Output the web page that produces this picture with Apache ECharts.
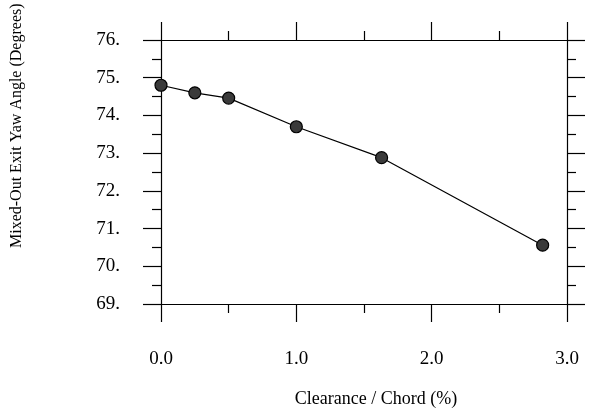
<!DOCTYPE html>
<html>
<head>
<meta charset="utf-8">
<script src="https://cdn.jsdelivr.net/npm/echarts@6/dist/echarts.min.js"></script>
<style>html,body{margin:0;padding:0;background:#fff}#c{width:596px;height:413px}</style>
</head>
<body>
<div id="c"></div>
<script>
var clearance = [0.0, 0.25, 0.5, 1.0, 1.63, 2.82];
var yawAngle = [74.80, 74.60, 74.46, 73.70, 72.88, 70.56];
var xTicks = [0, 1, 2, 3];
var yTicks = [69, 70, 71, 72, 73, 74, 75, 76];
var xTitle = 'Clearance / Chord (%)';
var yTitle = 'Mixed-Out Exit Yaw Angle (Degrees)';

var font = '"Liberation Serif", "Times New Roman", serif';
var chart = echarts.init(document.getElementById('c'));
var lineStyle = {color: '#000', width: 1.2};
function xAxis(pos, showLabel) {
  return {
    type: 'value', position: pos, min: xTicks[0], max: xTicks[xTicks.length - 1], interval: 1,
    axisLine: {show: true, onZero: false, lineStyle: lineStyle},
    axisTick: {show: true, inside: false, length: 18, lineStyle: lineStyle},
    minorTick: {show: true, splitNumber: 2, length: 9, lineStyle: lineStyle},
    splitLine: {show: false}, minorSplitLine: {show: false},
    axisLabel: {show: showLabel, margin: 46, fontFamily: font, fontSize: 19, color: '#000',
      formatter: function (v) { return v.toFixed(1); }}
  };
}
function yAxis(pos, showLabel) {
  return {
    type: 'value', position: pos, min: yTicks[0], max: yTicks[yTicks.length - 1], interval: 1,
    axisLine: {show: true, onZero: false, lineStyle: lineStyle},
    axisTick: {show: true, inside: false, length: 18, lineStyle: lineStyle},
    minorTick: {show: true, splitNumber: 2, length: 9, lineStyle: lineStyle},
    splitLine: {show: false}, minorSplitLine: {show: false},
    axisLabel: {show: showLabel, margin: 41, fontFamily: font, fontSize: 19, color: '#000',
      padding: [9, 0, 0, 0],
      formatter: function (v) { return v + '.'; }}
  };
}
chart.setOption({
  animation: false,
  backgroundColor: '#fff',
  grid: {left: 161, right: 29, top: 40, bottom: 109},
  xAxis: [xAxis('bottom', true), xAxis('top', false)],
  yAxis: [yAxis('left', true), yAxis('right', false)],
  graphic: [
    {type: 'text', x: 376, y: 390,
      style: {text: xTitle, font: '18px ' + font, fill: '#000', align: 'center', verticalAlign: 'top'}},
    {type: 'text', rotation: Math.PI / 2, x: 9, y: 248,
      style: {text: yTitle, font: '16px ' + font, fill: '#000', verticalAlign: 'top'}}
  ],
  series: [{
    type: 'line',
    data: clearance.map(function (x, i) { return [x, yawAngle[i]]; }),
    symbol: 'circle', symbolSize: 12,
    lineStyle: {color: '#000', width: 1.2},
    itemStyle: {color: '#3a3a3a', borderColor: '#000', borderWidth: 1.2}
  }]
});
</script>
</body>
</html>
